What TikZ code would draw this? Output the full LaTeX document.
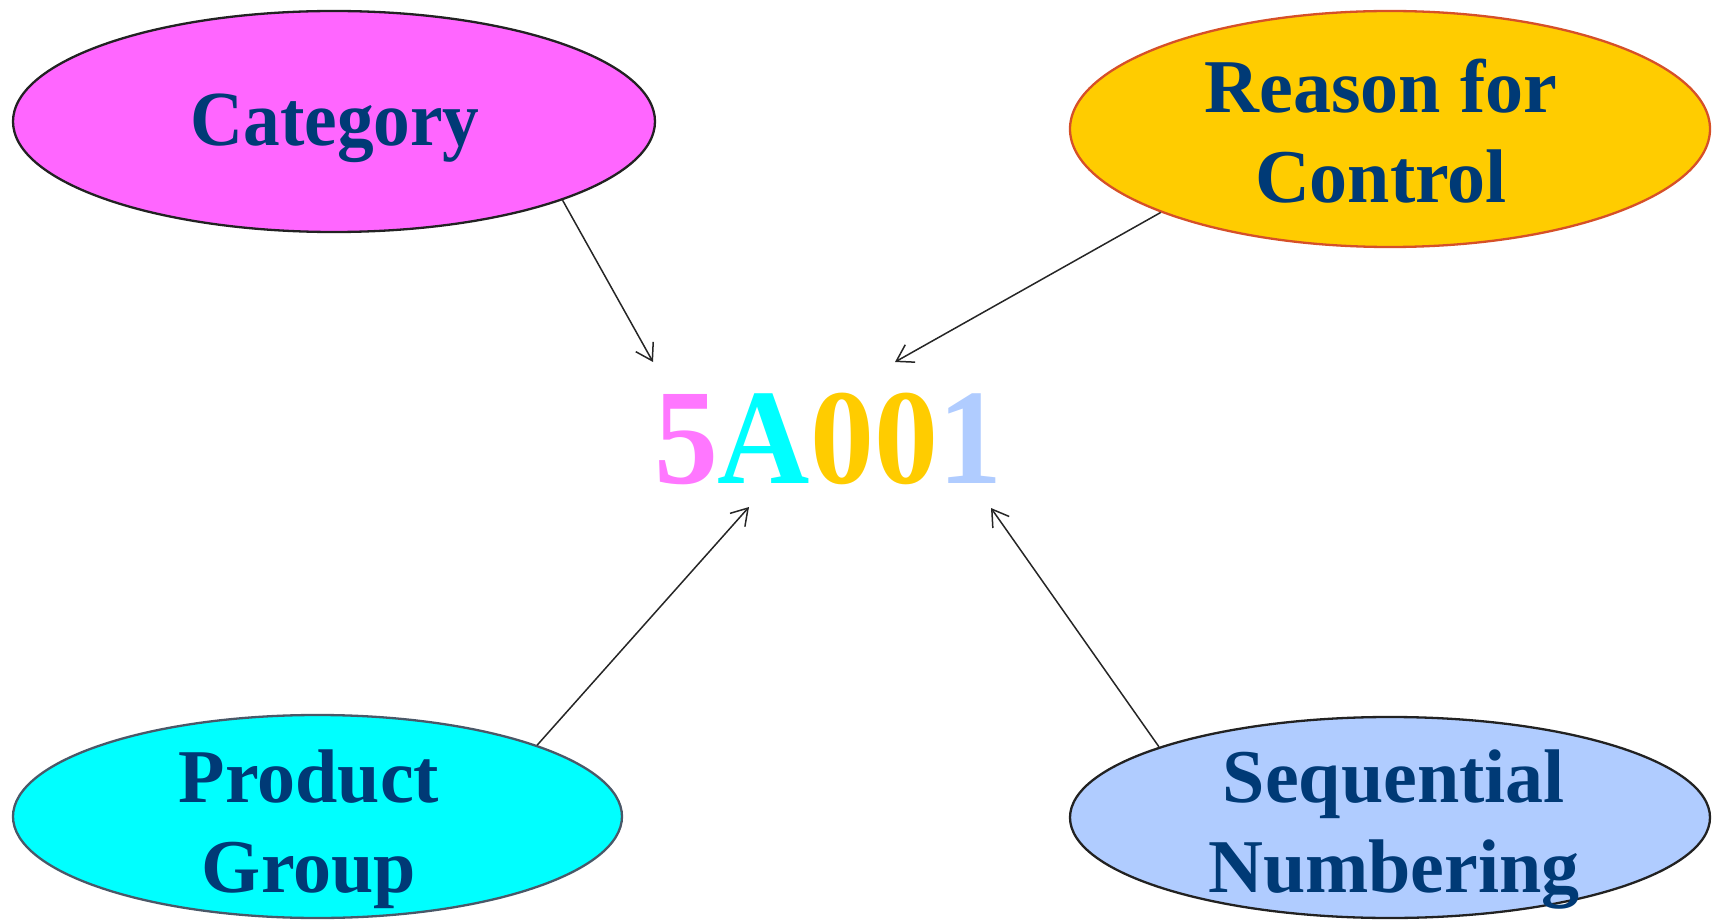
\documentclass[tikz,border=0pt]{standalone}
\usepackage{fontspec}
\setmainfont{Liberation Serif}
\newfontfamily\tagfont{Liberation Serif}
\newfontfamily\codefont{Liberation Serif}[FakeStretch=0.94]
\usepackage{xcolor}
\usetikzlibrary{shapes.geometric,arrows.meta}

\definecolor{tagblue}{RGB}{0,58,118}
\definecolor{catpink}{RGB}{255,102,255}
\definecolor{fivepink}{RGB}{255,119,255}
\definecolor{ctrlgold}{RGB}{255,204,0}
\definecolor{ctrlrim}{RGB}{214,80,40}
\definecolor{grpcyan}{RGB}{0,255,255}
\definecolor{grprim}{RGB}{74,88,104}
\definecolor{seqblue}{RGB}{176,204,255}
\definecolor{rimdark}{RGB}{34,34,34}

\tikzset{
  blob/.style={ellipse, draw=rimdark, line width=2.3pt, inner sep=0pt},
  tag/.style={text=tagblue, align=center, font=\tagfont\bfseries\fontsize{76}{90}\selectfont},
  pointer/.style={draw=black!85, line width=1.5pt, -{Straight Barb[length=16pt,width=20pt]}}
}

\begin{document}
\begin{tikzpicture}[x=1pt, y=-1pt]
  % Fix the page to the reference size
  \useasboundingbox (0,0) rectangle (1717,920);

  % The four ellipses
  \node[blob, fill=catpink, minimum width=642pt, minimum height=221pt] (cat) at (334,121.5) {};
  \node[blob, fill=ctrlgold, draw=ctrlrim, minimum width=640pt, minimum height=236pt] (reason) at (1390,129) {};
  \node[blob, fill=grpcyan, draw=grprim, minimum width=609pt, minimum height=203pt] (group) at (317.5,816.5) {};
  \node[blob, fill=seqblue, minimum width=640pt, minimum height=201pt] (seq) at (1390,817.5) {};

  % Their labels
  \node[tag, font=\codefont\bfseries\fontsize{78}{90}\selectfont] (catText) at (335,128) {Category};
  \node[tag] (reasonText) at (1381,131) {Reason for\\Control};
  \node[tag] (groupText) at (309,829) {Product\\Group};
  \node[tag] (seqText) at (1394,830) {Sequential\\Numbering};

  % The number in the middle
  \node[anchor=base, inner sep=0pt, font=\codefont\bfseries\fontsize{136}{140}\selectfont] (code) at (828,483)
    {\textcolor{fivepink}{5}\textcolor{grpcyan}{A}\textcolor{ctrlgold}{00}\textcolor{seqblue}{1}};

  % Arrow tips near the number
  \coordinate (tipCat) at (653,362);
  \coordinate (tipReason) at (895,362);
  \coordinate (tipGroup) at (749,507);
  \coordinate (tipSeq) at (991,508);

  \draw[pointer] (cat.-19) -- (tipCat);
  \draw[pointer] (reason.200) -- (tipReason);
  \draw[pointer] (group.18) -- (tipGroup);
  \draw[pointer] (seq.163) -- (tipSeq);
\end{tikzpicture}
\end{document}
